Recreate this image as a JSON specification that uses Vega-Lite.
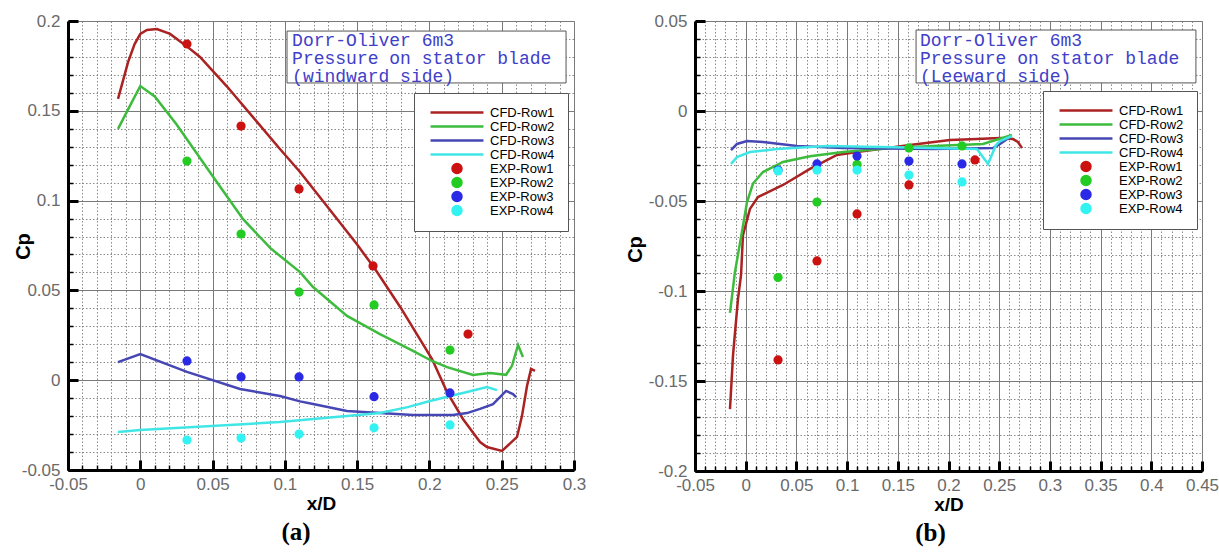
{
  "$schema": "https://vega.github.io/schema/vega-lite/v6.json",
  "background": "white",
  "padding": {"left": 13, "top": 12, "right": 5, "bottom": 5},
  "config": {
    "view": {"stroke": null},
    "font": "Liberation Sans",
    "title": {"font": "Liberation Serif", "fontSize": 25, "fontWeight": "bold", "color": "black"}
  },
  "datasets": {
    "a_cfd": [
      {"series": "CFD-Row1", "x": -0.0154, "cp": 0.1566}, {"series": "CFD-Row1", "x": -0.0085, "cp": 0.177}, {"series": "CFD-Row1", "x": -0.004, "cp": 0.187}, {"series": "CFD-Row1", "x": 0, "cp": 0.1928}, {"series": "CFD-Row1", "x": 0.0046, "cp": 0.195}, {"series": "CFD-Row1", "x": 0.0115, "cp": 0.1955}, {"series": "CFD-Row1", "x": 0.0206, "cp": 0.1928}, {"series": "CFD-Row1", "x": 0.032, "cp": 0.186}, {"series": "CFD-Row1", "x": 0.0413, "cp": 0.18}, {"series": "CFD-Row1", "x": 0.06, "cp": 0.1635}, {"series": "CFD-Row1", "x": 0.08, "cp": 0.1445}, {"series": "CFD-Row1", "x": 0.0966, "cp": 0.1287}, {"series": "CFD-Row1", "x": 0.1105, "cp": 0.1159}, {"series": "CFD-Row1", "x": 0.13, "cp": 0.096}, {"series": "CFD-Row1", "x": 0.15, "cp": 0.0755}, {"series": "CFD-Row1", "x": 0.1624, "cp": 0.0619}, {"series": "CFD-Row1", "x": 0.18, "cp": 0.0405}, {"series": "CFD-Row1", "x": 0.2018, "cp": 0.0118}, {"series": "CFD-Row1", "x": 0.2122, "cp": -0.0066}, {"series": "CFD-Row1", "x": 0.2232, "cp": -0.0216}, {"series": "CFD-Row1", "x": 0.235, "cp": -0.0344}, {"series": "CFD-Row1", "x": 0.2398, "cp": -0.0372}, {"series": "CFD-Row1", "x": 0.2502, "cp": -0.0394}, {"series": "CFD-Row1", "x": 0.2606, "cp": -0.0316}, {"series": "CFD-Row1", "x": 0.264, "cp": -0.02}, {"series": "CFD-Row1", "x": 0.2675, "cp": -0.0032}, {"series": "CFD-Row1", "x": 0.2703, "cp": 0.0063}, {"series": "CFD-Row1", "x": 0.273, "cp": 0.0052},
      {"series": "CFD-Row2", "x": -0.0154, "cp": 0.1399}, {"series": "CFD-Row2", "x": -0.007, "cp": 0.153}, {"series": "CFD-Row2", "x": 0, "cp": 0.1638}, {"series": "CFD-Row2", "x": 0.01, "cp": 0.158}, {"series": "CFD-Row2", "x": 0.025, "cp": 0.1425}, {"series": "CFD-Row2", "x": 0.05, "cp": 0.1137}, {"series": "CFD-Row2", "x": 0.071, "cp": 0.0898}, {"series": "CFD-Row2", "x": 0.09, "cp": 0.0735}, {"series": "CFD-Row2", "x": 0.1105, "cp": 0.0602}, {"series": "CFD-Row2", "x": 0.1195, "cp": 0.0519}, {"series": "CFD-Row2", "x": 0.143, "cp": 0.0358}, {"series": "CFD-Row2", "x": 0.1658, "cp": 0.0257}, {"series": "CFD-Row2", "x": 0.1886, "cp": 0.0163}, {"series": "CFD-Row2", "x": 0.2018, "cp": 0.0107}, {"series": "CFD-Row2", "x": 0.2122, "cp": 0.0073}, {"series": "CFD-Row2", "x": 0.2301, "cp": 0.0029}, {"series": "CFD-Row2", "x": 0.2419, "cp": 0.004}, {"series": "CFD-Row2", "x": 0.253, "cp": 0.003}, {"series": "CFD-Row2", "x": 0.2571, "cp": 0.008}, {"series": "CFD-Row2", "x": 0.2613, "cp": 0.0196}, {"series": "CFD-Row2", "x": 0.2647, "cp": 0.0129},
      {"series": "CFD-Row3", "x": -0.0154, "cp": 0.0101}, {"series": "CFD-Row3", "x": 0, "cp": 0.0146}, {"series": "CFD-Row3", "x": 0.0323, "cp": 0.0046}, {"series": "CFD-Row3", "x": 0.069, "cp": -0.0049}, {"series": "CFD-Row3", "x": 0.0966, "cp": -0.0088}, {"series": "CFD-Row3", "x": 0.1105, "cp": -0.0118}, {"series": "CFD-Row3", "x": 0.1195, "cp": -0.0133}, {"series": "CFD-Row3", "x": 0.143, "cp": -0.0171}, {"series": "CFD-Row3", "x": 0.1658, "cp": -0.0183}, {"series": "CFD-Row3", "x": 0.1886, "cp": -0.0194}, {"series": "CFD-Row3", "x": 0.2163, "cp": -0.0194}, {"series": "CFD-Row3", "x": 0.226, "cp": -0.0183}, {"series": "CFD-Row3", "x": 0.235, "cp": -0.016}, {"series": "CFD-Row3", "x": 0.244, "cp": -0.0133}, {"series": "CFD-Row3", "x": 0.253, "cp": -0.006}, {"series": "CFD-Row3", "x": 0.2578, "cp": -0.0077}, {"series": "CFD-Row3", "x": 0.26, "cp": -0.0094},
      {"series": "CFD-Row4", "x": -0.0154, "cp": -0.0288}, {"series": "CFD-Row4", "x": 0, "cp": -0.0277}, {"series": "CFD-Row4", "x": 0.0966, "cp": -0.0233}, {"series": "CFD-Row4", "x": 0.1658, "cp": -0.0183}, {"series": "CFD-Row4", "x": 0.185, "cp": -0.015}, {"series": "CFD-Row4", "x": 0.2004, "cp": -0.0116}, {"series": "CFD-Row4", "x": 0.226, "cp": -0.0066}, {"series": "CFD-Row4", "x": 0.2398, "cp": -0.0038}, {"series": "CFD-Row4", "x": 0.2467, "cp": -0.0055}
    ],
    "a_exp": [
      {"series": "EXP-Row1", "x": 0.0323, "cp": 0.1872}, {"series": "EXP-Row1", "x": 0.0697, "cp": 0.1415}, {"series": "EXP-Row1", "x": 0.1098, "cp": 0.1065}, {"series": "EXP-Row1", "x": 0.161, "cp": 0.0636}, {"series": "EXP-Row1", "x": 0.2267, "cp": 0.0257},
      {"series": "EXP-Row2", "x": 0.0323, "cp": 0.122}, {"series": "EXP-Row2", "x": 0.0697, "cp": 0.0814}, {"series": "EXP-Row2", "x": 0.1098, "cp": 0.0491}, {"series": "EXP-Row2", "x": 0.1617, "cp": 0.0419}, {"series": "EXP-Row2", "x": 0.2142, "cp": 0.0168},
      {"series": "EXP-Row3", "x": 0.0323, "cp": 0.0107}, {"series": "EXP-Row3", "x": 0.0697, "cp": 0.0018}, {"series": "EXP-Row3", "x": 0.1098, "cp": 0.0018}, {"series": "EXP-Row3", "x": 0.1617, "cp": -0.0092}, {"series": "EXP-Row3", "x": 0.2142, "cp": -0.0071},
      {"series": "EXP-Row4", "x": 0.0323, "cp": -0.0333}, {"series": "EXP-Row4", "x": 0.0697, "cp": -0.0322}, {"series": "EXP-Row4", "x": 0.1098, "cp": -0.03}, {"series": "EXP-Row4", "x": 0.1617, "cp": -0.0265}, {"series": "EXP-Row4", "x": 0.2142, "cp": -0.0249}
    ],
    "b_cfd": [
      {"series": "CFD-Row1", "x": -0.0155, "cp": -0.1656}, {"series": "CFD-Row1", "x": -0.0125, "cp": -0.1356}, {"series": "CFD-Row1", "x": -0.0076, "cp": -0.1044}, {"series": "CFD-Row1", "x": -0.0046, "cp": -0.0911}, {"series": "CFD-Row1", "x": -0.0027, "cp": -0.069}, {"series": "CFD-Row1", "x": 0.0042, "cp": -0.0544}, {"series": "CFD-Row1", "x": 0.0121, "cp": -0.0478}, {"series": "CFD-Row1", "x": 0.0368, "cp": -0.0411}, {"series": "CFD-Row1", "x": 0.0634, "cp": -0.0322}, {"series": "CFD-Row1", "x": 0.09, "cp": -0.0244}, {"series": "CFD-Row1", "x": 0.1098, "cp": -0.0228}, {"series": "CFD-Row1", "x": 0.162, "cp": -0.0189}, {"series": "CFD-Row1", "x": 0.2015, "cp": -0.0161}, {"series": "CFD-Row1", "x": 0.228, "cp": -0.0156}, {"series": "CFD-Row1", "x": 0.2508, "cp": -0.015}, {"series": "CFD-Row1", "x": 0.2636, "cp": -0.0156}, {"series": "CFD-Row1", "x": 0.2685, "cp": -0.0172}, {"series": "CFD-Row1", "x": 0.2725, "cp": -0.0206},
      {"series": "CFD-Row2", "x": -0.0155, "cp": -0.1122}, {"series": "CFD-Row2", "x": -0.0106, "cp": -0.0894}, {"series": "CFD-Row2", "x": -0.0037, "cp": -0.0672}, {"series": "CFD-Row2", "x": 0.0013, "cp": -0.0506}, {"series": "CFD-Row2", "x": 0.0072, "cp": -0.0403}, {"series": "CFD-Row2", "x": 0.017, "cp": -0.0339}, {"series": "CFD-Row2", "x": 0.0368, "cp": -0.0283}, {"series": "CFD-Row2", "x": 0.0634, "cp": -0.0251}, {"series": "CFD-Row2", "x": 0.096, "cp": -0.0228}, {"series": "CFD-Row2", "x": 0.1453, "cp": -0.0206}, {"series": "CFD-Row2", "x": 0.1847, "cp": -0.0194}, {"series": "CFD-Row2", "x": 0.234, "cp": -0.0183}, {"series": "CFD-Row2", "x": 0.2626, "cp": -0.0133},
      {"series": "CFD-Row3", "x": -0.0145, "cp": -0.0217}, {"series": "CFD-Row3", "x": -0.0086, "cp": -0.0183}, {"series": "CFD-Row3", "x": 0.0013, "cp": -0.0167}, {"series": "CFD-Row3", "x": 0.0171, "cp": -0.0172}, {"series": "CFD-Row3", "x": 0.0506, "cp": -0.0194}, {"series": "CFD-Row3", "x": 0.096, "cp": -0.0206}, {"series": "CFD-Row3", "x": 0.1847, "cp": -0.0211}, {"series": "CFD-Row3", "x": 0.2439, "cp": -0.0206}, {"series": "CFD-Row3", "x": 0.2508, "cp": -0.0183}, {"series": "CFD-Row3", "x": 0.2607, "cp": -0.0144},
      {"series": "CFD-Row4", "x": -0.0145, "cp": -0.0294}, {"series": "CFD-Row4", "x": -0.0086, "cp": -0.0256}, {"series": "CFD-Row4", "x": 0.0042, "cp": -0.0228}, {"series": "CFD-Row4", "x": 0.0309, "cp": -0.0211}, {"series": "CFD-Row4", "x": 0.0802, "cp": -0.0194}, {"series": "CFD-Row4", "x": 0.1847, "cp": -0.0206}, {"series": "CFD-Row4", "x": 0.2281, "cp": -0.0211}, {"series": "CFD-Row4", "x": 0.239, "cp": -0.0294}, {"series": "CFD-Row4", "x": 0.2468, "cp": -0.0189}, {"series": "CFD-Row4", "x": 0.2508, "cp": -0.0167}, {"series": "CFD-Row4", "x": 0.2626, "cp": -0.0139}
    ],
    "b_exp": [
      {"series": "EXP-Row1", "x": 0.0319, "cp": -0.1383}, {"series": "EXP-Row1", "x": 0.0703, "cp": -0.0833}, {"series": "EXP-Row1", "x": 0.1098, "cp": -0.0572}, {"series": "EXP-Row1", "x": 0.161, "cp": -0.0411}, {"series": "EXP-Row1", "x": 0.2261, "cp": -0.0272},
      {"series": "EXP-Row2", "x": 0.0319, "cp": -0.0925}, {"series": "EXP-Row2", "x": 0.0703, "cp": -0.0506}, {"series": "EXP-Row2", "x": 0.1098, "cp": -0.0297}, {"series": "EXP-Row2", "x": 0.161, "cp": -0.0205}, {"series": "EXP-Row2", "x": 0.2133, "cp": -0.0194},
      {"series": "EXP-Row3", "x": 0.0319, "cp": -0.0328}, {"series": "EXP-Row3", "x": 0.0703, "cp": -0.0294}, {"series": "EXP-Row3", "x": 0.1098, "cp": -0.025}, {"series": "EXP-Row3", "x": 0.161, "cp": -0.0278}, {"series": "EXP-Row3", "x": 0.2133, "cp": -0.0294},
      {"series": "EXP-Row4", "x": 0.0319, "cp": -0.0333}, {"series": "EXP-Row4", "x": 0.0703, "cp": -0.0328}, {"series": "EXP-Row4", "x": 0.1098, "cp": -0.0328}, {"series": "EXP-Row4", "x": 0.161, "cp": -0.0356}, {"series": "EXP-Row4", "x": 0.2133, "cp": -0.0394}
    ]
  },
  "bounds": "flush",
  "spacing": 121,
  "resolve": {"scale": {"color": "independent"}, "legend": {"color": "independent"}},
  "hconcat": [
    {
      "width": 506,
      "height": 449,
      "title": {"text": "(a)", "orient": "bottom", "anchor": "middle", "dx": -25, "offset": 7},
      "resolve": {"axis": {"x": "independent", "y": "independent"}},
      "layer": [
        {
          "data": {"name": "a_cfd"},
          "mark": {"type": "line", "strokeWidth": 2.5},
          "encoding": {
            "x": {"field": "x", "type": "quantitative", "scale": {"domain": [-0.05, 0.3], "nice": false, "zero": false},
              "axis": {"orient": "bottom", "values": [-0.05,-0.04,-0.03,-0.02,-0.01,0,0.01,0.02,0.03,0.04,0.05,0.06,0.07,0.08,0.09,0.1,0.11,0.12,0.13,0.14,0.15,0.16,0.17,0.18,0.19,0.2,0.21,0.22,0.23,0.24,0.25,0.26,0.27,0.28,0.29,0.3], "labels": false, "domain": false, "ticks": true, "tickSize": -5, "tickWidth": 1.5, "tickColor": "black", "grid": true, "gridDash": [1.5, 2], "gridColor": "#8a8a8a", "gridWidth": 1, "title": null}},
            "y": {"field": "cp", "type": "quantitative", "scale": {"domain": [-0.05, 0.2], "nice": false, "zero": false},
              "axis": {"orient": "left", "values": [-0.05,-0.04,-0.03,-0.02,-0.01,0,0.01,0.02,0.03,0.04,0.05,0.06,0.07,0.08,0.09,0.1,0.11,0.12,0.13,0.14,0.15,0.16,0.17,0.18,0.19,0.2], "labels": false, "domain": false, "ticks": true, "tickSize": -5, "tickWidth": 1.5, "tickColor": "black", "grid": true, "gridDash": [1.5, 2], "gridColor": "#8a8a8a", "gridWidth": 1, "title": null}},
            "color": {"field": "series", "type": "nominal",
              "scale": {"domain": ["CFD-Row1","CFD-Row2","CFD-Row3","CFD-Row4","EXP-Row1","EXP-Row2","EXP-Row3","EXP-Row4"], "range": ["#aa2222","#3dbb3d","#4646b4","#40e6e6","#cc1111","#22cc22","#2a2ae6","#33f2f2"]},
              "legend": {"orient": "none", "legendX": 346, "legendY": 72, "direction": "vertical", "title": null, "symbolType": "stroke", "symbolSize": 2800, "symbolStrokeWidth": 2.5, "symbolOffset": 2, "labelOffset": 5, "labelFont": "Liberation Sans", "labelFontSize": 13, "labelColor": "black", "clipHeight": 13, "rowPadding": 0, "padding": 13, "fillColor": "white", "strokeColor": "#555555",
                "encode": {"symbols": {"update": {
                  "opacity": {"value": 1},
                  "shape": {"signal": "indexof(datum.value,'CFD')===0 ? 'stroke' : 'M-0.17,0A0.17,0.17,0,1,0,0.17,0A0.17,0.17,0,1,0,-0.17,0Z'"},
                  "stroke": {"signal": "datum.value==='CFD-Row1' ? '#aa2222' : datum.value==='CFD-Row2' ? '#3dbb3d' : datum.value==='CFD-Row3' ? '#4646b4' : datum.value==='CFD-Row4' ? '#40e6e6' : 'transparent'"},
                  "fill": {"signal": "datum.value==='EXP-Row1' ? '#cc1111' : datum.value==='EXP-Row2' ? '#22cc22' : datum.value==='EXP-Row3' ? '#2a2ae6' : datum.value==='EXP-Row4' ? '#33f2f2' : 'transparent'"}
                }}}}
            }
          }
        },
        {
          "data": {"name": "a_exp"},
          "mark": {"type": "circle", "size": 85, "opacity": 1},
          "encoding": {
            "x": {"field": "x", "type": "quantitative", "scale": {"domain": [-0.05, 0.3], "nice": false, "zero": false},
              "axis": {"orient": "bottom", "values": [-0.05,0,0.05,0.1,0.15,0.2,0.25,0.3], "labelExpr": "toString(datum.value)", "labelFont": "Liberation Sans", "labelFontSize": 17, "labelColor": "#6a6a6a", "labelPadding": 16, "labelFlush": false, "labelOverlap": false, "domain": true, "domainWidth": 3, "domainColor": "black", "ticks": true, "tickSize": -10, "tickWidth": 3, "tickColor": "black", "grid": true, "gridColor": "#7a7a7a", "gridWidth": 1, "title": "x/D", "titleFont": "Liberation Sans", "titleFontSize": 19, "titleFontWeight": "bold", "titleColor": "black", "titlePadding": 2}},
            "y": {"field": "cp", "type": "quantitative", "scale": {"domain": [-0.05, 0.2], "nice": false, "zero": false},
              "axis": {"orient": "left", "values": [-0.05,0,0.05,0.1,0.15,0.2], "labelExpr": "toString(datum.value)", "labelFont": "Liberation Sans", "labelFontSize": 17, "labelColor": "#6a6a6a", "labelPadding": 18, "labelFlush": false, "labelOverlap": false, "domain": true, "domainWidth": 3, "domainColor": "black", "ticks": true, "tickSize": -10, "tickWidth": 3, "tickColor": "black", "grid": true, "gridColor": "#7a7a7a", "gridWidth": 1, "title": "Cp", "titleFont": "Liberation Sans", "titleFontSize": 20, "titleFontWeight": "bold", "titleColor": "black", "titleX": -45, "titleY": 225, "titleAngle": -90, "titleAlign": "center", "titleBaseline": "middle"}},
            "color": {"field": "series", "type": "nominal",
              "scale": {"domain": ["CFD-Row1","CFD-Row2","CFD-Row3","CFD-Row4","EXP-Row1","EXP-Row2","EXP-Row3","EXP-Row4"], "range": ["#aa2222","#3dbb3d","#4646b4","#40e6e6","#cc1111","#22cc22","#2a2ae6","#33f2f2"]},
              "legend": {"orient": "none", "legendX": 346, "legendY": 72, "direction": "vertical", "title": null, "symbolType": "stroke", "symbolSize": 2800, "symbolStrokeWidth": 2.5, "symbolOffset": 2, "labelOffset": 5, "labelFont": "Liberation Sans", "labelFontSize": 13, "labelColor": "black", "clipHeight": 13, "rowPadding": 0, "padding": 13, "fillColor": "white", "strokeColor": "#555555"}
            }
          }
        },
        {
          "data": {"values": [{}]},
          "mark": {"type": "rect", "fill": "white", "stroke": "#555555", "strokeWidth": 1},
          "encoding": {
            "x": {"datum": 0.1015, "type": "quantitative", "axis": null},
            "x2": {"datum": 0.2945},
            "y": {"datum": 0.1944, "type": "quantitative", "axis": null},
            "y2": {"datum": 0.1655}
          }
        },
        {
          "data": {"values": [{}]},
          "mark": {"type": "text", "text": ["Dorr-Oliver 6m3", "Pressure on stator blade", "(windward side)"], "font": "Liberation Mono", "fontSize": 18, "color": "#4040c8", "align": "left", "baseline": "middle", "lineHeight": 18},
          "encoding": {
            "x": {"datum": 0.105, "type": "quantitative", "axis": null},
            "y": {"datum": 0.1889, "type": "quantitative", "axis": null}
          }
        }
      ]
    },
    {
      "width": 507,
      "height": 450,
      "title": {"text": "(b)", "orient": "bottom", "anchor": "middle", "dx": -18, "offset": 7},
      "resolve": {"axis": {"x": "independent", "y": "independent"}},
      "layer": [
        {
          "data": {"name": "b_cfd"},
          "mark": {"type": "line", "strokeWidth": 2.5},
          "encoding": {
            "x": {"field": "x", "type": "quantitative", "scale": {"domain": [-0.05, 0.45], "nice": false, "zero": false},
              "axis": {"orient": "bottom", "values": [-0.05,-0.04,-0.03,-0.02,-0.01,0,0.01,0.02,0.03,0.04,0.05,0.06,0.07,0.08,0.09,0.1,0.11,0.12,0.13,0.14,0.15,0.16,0.17,0.18,0.19,0.2,0.21,0.22,0.23,0.24,0.25,0.26,0.27,0.28,0.29,0.3,0.31,0.32,0.33,0.34,0.35,0.36,0.37,0.38,0.39,0.4,0.41,0.42,0.43,0.44,0.45], "labels": false, "domain": false, "ticks": true, "tickSize": -5, "tickWidth": 1.5, "tickColor": "black", "grid": true, "gridDash": [1.5, 2], "gridColor": "#8a8a8a", "gridWidth": 1, "title": null}},
            "y": {"field": "cp", "type": "quantitative", "scale": {"domain": [-0.2, 0.05], "nice": false, "zero": false},
              "axis": {"orient": "left", "values": [-0.2,-0.19,-0.18,-0.17,-0.16,-0.15,-0.14,-0.13,-0.12,-0.11,-0.1,-0.09,-0.08,-0.07,-0.06,-0.05,-0.04,-0.03,-0.02,-0.01,0,0.01,0.02,0.03,0.04,0.05], "labels": false, "domain": false, "ticks": true, "tickSize": -5, "tickWidth": 1.5, "tickColor": "black", "grid": true, "gridDash": [1.5, 2], "gridColor": "#8a8a8a", "gridWidth": 1, "title": null}},
            "color": {"field": "series", "type": "nominal",
              "scale": {"domain": ["CFD-Row1","CFD-Row2","CFD-Row3","CFD-Row4","EXP-Row1","EXP-Row2","EXP-Row3","EXP-Row4"], "range": ["#aa2222","#3dbb3d","#4646b4","#40e6e6","#cc1111","#22cc22","#2a2ae6","#33f2f2"]},
              "legend": {"orient": "none", "legendX": 348, "legendY": 70, "direction": "vertical", "title": null, "symbolType": "stroke", "symbolSize": 2800, "symbolStrokeWidth": 2.5, "symbolOffset": 2, "labelOffset": 5, "labelFont": "Liberation Sans", "labelFontSize": 13, "labelColor": "black", "clipHeight": 13, "rowPadding": 0, "padding": 13, "fillColor": "white", "strokeColor": "#555555",
                "encode": {"symbols": {"update": {
                  "opacity": {"value": 1},
                  "shape": {"signal": "indexof(datum.value,'CFD')===0 ? 'stroke' : 'M-0.17,0A0.17,0.17,0,1,0,0.17,0A0.17,0.17,0,1,0,-0.17,0Z'"},
                  "stroke": {"signal": "datum.value==='CFD-Row1' ? '#aa2222' : datum.value==='CFD-Row2' ? '#3dbb3d' : datum.value==='CFD-Row3' ? '#4646b4' : datum.value==='CFD-Row4' ? '#40e6e6' : 'transparent'"},
                  "fill": {"signal": "datum.value==='EXP-Row1' ? '#cc1111' : datum.value==='EXP-Row2' ? '#22cc22' : datum.value==='EXP-Row3' ? '#2a2ae6' : datum.value==='EXP-Row4' ? '#33f2f2' : 'transparent'"}
                }}}}
            }
          }
        },
        {
          "data": {"name": "b_exp"},
          "mark": {"type": "circle", "size": 85, "opacity": 1},
          "encoding": {
            "x": {"field": "x", "type": "quantitative", "scale": {"domain": [-0.05, 0.45], "nice": false, "zero": false},
              "axis": {"orient": "bottom", "values": [-0.05,0,0.05,0.1,0.15,0.2,0.25,0.3,0.35,0.4,0.45], "labelExpr": "toString(datum.value)", "labelFont": "Liberation Sans", "labelFontSize": 17, "labelColor": "#6a6a6a", "labelPadding": 16, "labelFlush": false, "labelOverlap": false, "domain": true, "domainWidth": 3, "domainColor": "black", "ticks": true, "tickSize": -10, "tickWidth": 3, "tickColor": "black", "grid": true, "gridColor": "#7a7a7a", "gridWidth": 1, "title": "x/D", "titleFont": "Liberation Sans", "titleFontSize": 19, "titleFontWeight": "bold", "titleColor": "black", "titlePadding": 2}},
            "y": {"field": "cp", "type": "quantitative", "scale": {"domain": [-0.2, 0.05], "nice": false, "zero": false},
              "axis": {"orient": "left", "values": [-0.2,-0.15,-0.1,-0.05,0,0.05], "labelExpr": "toString(datum.value)", "labelFont": "Liberation Sans", "labelFontSize": 17, "labelColor": "#6a6a6a", "labelPadding": 18, "labelFlush": false, "labelOverlap": false, "domain": true, "domainWidth": 3, "domainColor": "black", "ticks": true, "tickSize": -10, "tickWidth": 3, "tickColor": "black", "grid": true, "gridColor": "#7a7a7a", "gridWidth": 1, "title": "Cp", "titleFont": "Liberation Sans", "titleFontSize": 20, "titleFontWeight": "bold", "titleColor": "black", "titleX": -60, "titleY": 228, "titleAngle": -90, "titleAlign": "center", "titleBaseline": "middle"}},
            "color": {"field": "series", "type": "nominal",
              "scale": {"domain": ["CFD-Row1","CFD-Row2","CFD-Row3","CFD-Row4","EXP-Row1","EXP-Row2","EXP-Row3","EXP-Row4"], "range": ["#aa2222","#3dbb3d","#4646b4","#40e6e6","#cc1111","#22cc22","#2a2ae6","#33f2f2"]},
              "legend": {"orient": "none", "legendX": 348, "legendY": 70, "direction": "vertical", "title": null, "symbolType": "stroke", "symbolSize": 2800, "symbolStrokeWidth": 2.5, "symbolOffset": 2, "labelOffset": 5, "labelFont": "Liberation Sans", "labelFontSize": 13, "labelColor": "black", "clipHeight": 13, "rowPadding": 0, "padding": 13, "fillColor": "white", "strokeColor": "#555555"}
            }
          }
        },
        {
          "data": {"values": [{}]},
          "mark": {"type": "rect", "fill": "white", "stroke": "#555555", "strokeWidth": 1},
          "encoding": {
            "x": {"datum": 0.168, "type": "quantitative", "axis": null},
            "x2": {"datum": 0.444},
            "y": {"datum": 0.045, "type": "quantitative", "axis": null},
            "y2": {"datum": 0.0156}
          }
        },
        {
          "data": {"values": [{}]},
          "mark": {"type": "text", "text": ["Dorr-Oliver 6m3", "Pressure on stator blade", "(Leeward side)"], "font": "Liberation Mono", "fontSize": 18, "color": "#4040c8", "align": "left", "baseline": "middle", "lineHeight": 18},
          "encoding": {
            "x": {"datum": 0.1719, "type": "quantitative", "axis": null},
            "y": {"datum": 0.0389, "type": "quantitative", "axis": null}
          }
        }
      ]
    }
  ]
}
